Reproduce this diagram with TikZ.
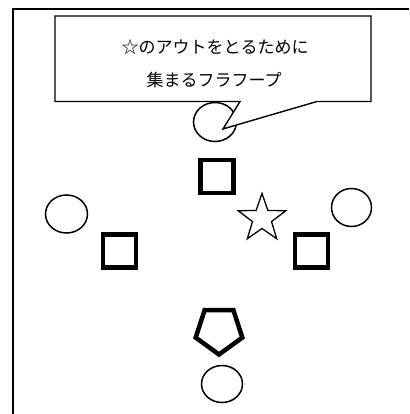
\documentclass[tikz,border=0pt]{standalone}
\usepackage{fontspec}
\newfontfamily\cjk{Noto Sans CJK JP}
\usetikzlibrary{shapes.geometric}
\begin{document}
\begin{tikzpicture}[x=1pt,y=-1pt,
  ring/.style={draw,ellipse,line width=1.5pt,inner sep=0pt,fill=white},
  box/.style={draw,rectangle,line width=4.5pt,minimum size=33pt,inner sep=0pt},
  label/.style={font=\cjk\fontsize{17}{19}\selectfont,inner sep=0pt}]
\useasboundingbox (0,0) rectangle (409,414);
% frame
\coordinate (ftl) at (13,9);
\coordinate (ftr) at (409,9);
\coordinate (fbl) at (13,414);
\draw[line width=1.6pt] (ftr) -- (ftl) -- (fbl);
% circle under callout
\node[ring,minimum width=43pt,minimum height=39pt] (c0) at (215,122) {};
% callout
\coordinate (b1) at (55,16);
\coordinate (b2) at (371,16);
\coordinate (b3) at (371,101.5);
\coordinate (p1) at (317,101.5);
\coordinate (p2) at (233,126);
\coordinate (tip) at (223,129);
\coordinate (p3) at (240,101.5);
\coordinate (b4) at (55,101.5);
\draw[line width=1.4pt,fill=white,line join=miter] (b1) -- (b2) -- (b3) -- (p1) -- (p2) -- (tip) -- (p3) -- (b4) -- cycle;
\node[label] (t1) at (215,47) {☆のアウトをとるために};
\node[label] (t2) at (214,80) {集まるフラフープ};
% squares
\node[box] (s1) at (217,176.5) {};
\node[box] (s2) at (119.5,251) {};
\node[box] (s3) at (311.5,251) {};
% star
\node[draw,star,star points=5,star point ratio=2.5,minimum size=50pt,inner sep=0pt,line width=1.3pt] (st) at (262,218.5) {};
% circles
\node[ring,minimum width=42pt,minimum height=38pt] (c1) at (66.5,214) {};
\node[ring,minimum width=40pt,minimum height=38pt] (c2) at (351.5,207.5) {};
\node[ring,minimum width=41pt,minimum height=37pt] (c3) at (222,384) {};
% pentagon
\node[draw,regular polygon,regular polygon sides=5,shape border rotate=180,minimum size=49pt,inner sep=0pt,line width=4.5pt] (pg) at (219,330) {};
\end{tikzpicture}
\end{document}
